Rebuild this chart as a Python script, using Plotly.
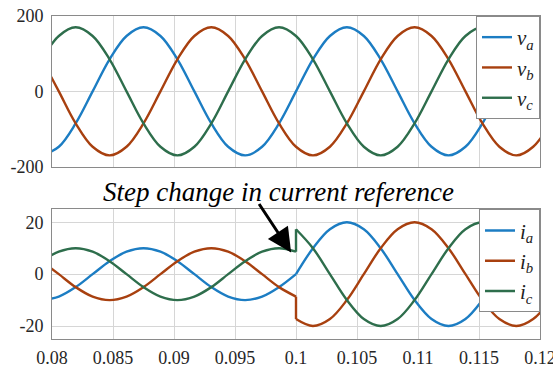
import plotly.graph_objects as go

# ---------------- data ----------------
# time samples (s)
t = [0.07917, 0.08056, 0.08194, 0.08333, 0.08472, 0.08611, 0.0875, 0.08889,
     0.09028, 0.09167, 0.09306, 0.09444, 0.09583, 0.09722, 0.09861, 0.1,
     0.10139, 0.10278, 0.10417, 0.10556, 0.10694, 0.10833, 0.10972, 0.11111,
     0.1125, 0.11389, 0.11528, 0.11667, 0.11806, 0.11944, 0.12083]

# phase voltages (V)
va = [-170, -147, -85, 0, 85, 147, 170, 147, 85, 0, -85, -147, -170, -147, -85, 0,
      85, 147, 170, 147, 85, 0, -85, -147, -170, -147, -85, 0, 85, 147, 170]
vb = [85, 0, -85, -147, -170, -147, -85, 0, 85, 147, 170, 147, 85, 0, -85, -147,
      -170, -147, -85, 0, 85, 147, 170, 147, 85, 0, -85, -147, -170, -147, -85]
vc = [85, 147, 170, 147, 85, 0, -85, -147, -170, -147, -85, 0, 85, 147, 170, 147,
      85, 0, -85, -147, -170, -147, -85, 0, 85, 147, 170, 147, 85, 0, -85]

# phase currents (A) before the step (t <= 0.1)
t_pre = t[:16]
ia_pre = [-10, -8.66, -5, 0, 5, 8.66, 10, 8.66, 5, 0, -5, -8.66, -10, -8.66, -5, 0]
ib_pre = [5, 0, -5, -8.66, -10, -8.66, -5, 0, 5, 8.66, 10, 8.66, 5, 0, -5, -8.66]
ic_pre = [5, 8.66, 10, 8.66, 5, 0, -5, -8.66, -10, -8.66, -5, 0, 5, 8.66, 10, 8.66]

# phase currents (A) after the step (t >= 0.1)
t_post = t[15:]
ia_post = [0, 10, 17.32, 20, 17.32, 10, 0, -10, -17.32, -20, -17.32, -10, 0, 10, 17.32, 20]
ib_post = [-17.32, -20, -17.32, -10, 0, 10, 17.32, 20, 17.32, 10, 0, -10, -17.32, -20, -17.32, -10]
ic_post = [17.32, 10, 0, -10, -17.32, -20, -17.32, -10, 0, 10, 17.32, 20, 17.32, 10, 0, -10]

t_step = 0.1

x_tick_vals = [0.08, 0.085, 0.09, 0.095, 0.1, 0.105, 0.11, 0.115, 0.12]
x_tick_labels = ["0.08", "0.085", "0.09", "0.095", "0.1", "0.105", "0.11", "0.115", "0.12"]
v_tick_vals = [-200, 0, 200]
v_tick_labels = ["-200", "0", "200"]
i_tick_vals = [-20, 0, 20]
i_tick_labels = ["-20", "0", "20"]

v_names = ["<i>v</i><sub><i>a</i></sub>", "<i>v</i><sub><i>b</i></sub>", "<i>v</i><sub><i>c</i></sub>"]
i_names = ["<i>i</i><sub><i>a</i></sub>", "<i>i</i><sub><i>b</i></sub>", "<i>i</i><sub><i>c</i></sub>"]
annotation_text = "Step change in current reference"

# ---------------- styling ----------------
colors = ["#1c7dc3", "#a8400f", "#2e6e4c"]
LW = 2.4
FONT = "Liberation Serif"
GRID = "#d6d6d6"
AXLINE = "#8a8a8a"
TICKFONT = dict(family=FONT, size=18, color="#262626")

fig = go.Figure()

for v, name, c in zip([va, vb, vc], v_names, colors):
    fig.add_trace(go.Scatter(x=t, y=v, name=name, mode="lines",
                             line=dict(color=c, width=LW, shape="spline", smoothing=1),
                             xaxis="x", yaxis="y", legend="legend"))

for pre, post, name, c in zip([ia_pre, ib_pre, ic_pre], [ia_post, ib_post, ic_post], i_names, colors):
    fig.add_trace(go.Scatter(x=t_pre, y=pre, mode="lines", showlegend=False, legendgroup=name,
                             line=dict(color=c, width=LW, shape="spline", smoothing=1),
                             xaxis="x2", yaxis="y2"))
    fig.add_trace(go.Scatter(x=[t_step, t_step], y=[pre[-1], post[0]], mode="lines",
                             showlegend=False, legendgroup=name,
                             line=dict(color=c, width=LW), xaxis="x2", yaxis="y2"))
    fig.add_trace(go.Scatter(x=t_post, y=post, name=name, mode="lines", legendgroup=name,
                             line=dict(color=c, width=LW, shape="spline", smoothing=1),
                             xaxis="x2", yaxis="y2", legend="legend2"))

top_dom = [0.5334, 1.0]
bot_dom = [0.0, 0.4015]

common_x = dict(range=[0.08, 0.12], tickvals=x_tick_vals, ticktext=x_tick_labels,
                showgrid=True, gridcolor=GRID, gridwidth=1, zeroline=False,
                showline=True, linecolor=AXLINE, linewidth=1, mirror=True, ticks="",
                automargin=False, ticklabeloverflow="allow", tickfont=TICKFONT,
                ticklabelstandoff=2)
common_y = dict(showgrid=True, gridcolor=GRID, gridwidth=1, zeroline=False,
                showline=True, linecolor=AXLINE, linewidth=1, mirror=True, ticks="",
                ticklabelstandoff=4, automargin=False, tickfont=TICKFONT)

legend_common = dict(x=1.0, xanchor="right", bgcolor="white", bordercolor=AXLINE,
                     borderwidth=1, font=dict(family=FONT, size=21, color="#222"),
                     itemwidth=30, tracegroupgap=0)

fig.update_layout(
    width=553, height=370,
    margin=dict(l=52, r=13, t=16, b=31, autoexpand=False),
    paper_bgcolor="white", plot_bgcolor="white",
    font=dict(family=FONT, size=18, color="#222"),
    xaxis=dict(domain=[0, 1], anchor="y", showticklabels=False, **common_x),
    yaxis=dict(domain=top_dom, anchor="x", range=[-200, 200], tickvals=v_tick_vals,
               ticktext=v_tick_labels, **common_y),
    xaxis2=dict(domain=[0, 1], anchor="y2", showticklabels=True, **common_x),
    yaxis2=dict(domain=bot_dom, anchor="x2", range=[-25, 25], tickvals=i_tick_vals,
                ticktext=i_tick_labels, **common_y),
    legend=dict(y=top_dom[1], yanchor="top", **legend_common),
    legend2=dict(y=bot_dom[1], yanchor="top", **legend_common),
    showlegend=True,
)

fig.add_annotation(text="<i>" + annotation_text + "</i>", xref="paper", yref="paper",
                   x=0.4634, y=0.455, xanchor="center", yanchor="middle", showarrow=False,
                   font=dict(family=FONT, size=27, color="black"))
fig.add_annotation(text="", xref="x2", yref="y2", x=0.0996, y=ic_pre[-1] - 0.3,
                   ax=-33, ay=-50, showarrow=True, arrowhead=2, arrowsize=1.6,
                   arrowwidth=3, arrowcolor="black", standoff=0)

fig.write_html("out.html", config={"displayModeBar": False},
               post_script="document.body.style.margin='0px';")
